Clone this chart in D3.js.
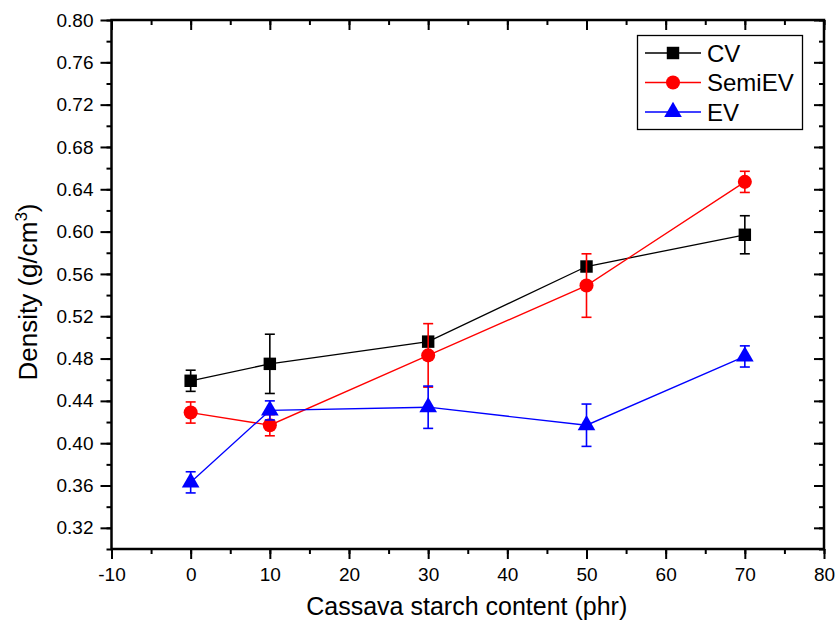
<!DOCTYPE html>
<html>
<head>
<meta charset="utf-8">
<script src="https://cdn.jsdelivr.net/npm/d3@7"></script>
<style>
  html, body { margin: 0; padding: 0; background: #fff; }
  svg { display: block; font-family: "Liberation Sans", Arial, Helvetica, sans-serif; }
</style>
</head>
<body>
<svg id="chart" width="839" height="630"></svg>
<script>
// Starch content (phr) at which each sample was measured
const starchContent = [0, 10, 30, 50, 70];

// Density (g/cm^3) and standard deviation for each vulcanisation system
const cvDensity      = [0.459, 0.475, 0.496, 0.567, 0.597];
const cvError        = [0.010, 0.028, 0.004, 0.004, 0.018];
const semiEvDensity  = [0.429, 0.417, 0.483, 0.549, 0.647];
const semiEvError    = [0.010, 0.010, 0.030, 0.030, 0.010];
const evDensity      = [0.363, 0.431, 0.434, 0.417, 0.482];
const evError        = [0.010, 0.009, 0.020, 0.020, 0.010];

const seriesNames  = ["CV", "SemiEV", "EV"];
const seriesColors = ["#000000", "#ff0000", "#0000ff"];
const seriesShapes = ["square", "circle", "triangle"];

const xTickValues = [-10, 0, 10, 20, 30, 40, 50, 60, 70, 80];
const yTickValues = [0.32, 0.36, 0.40, 0.44, 0.48, 0.52, 0.56, 0.60, 0.64, 0.68, 0.72, 0.76, 0.80];

const series = [
  { name: seriesNames[0], color: seriesColors[0], shape: seriesShapes[0], y: cvDensity, err: cvError },
  { name: seriesNames[1], color: seriesColors[1], shape: seriesShapes[1], y: semiEvDensity, err: semiEvError },
  { name: seriesNames[2], color: seriesColors[2], shape: seriesShapes[2], y: evDensity, err: evError }
];

const svg = d3.select("#chart");
const plot = { left: 111.5, right: 824, top: 20, bottom: 549 };

const x = d3.scaleLinear().domain([-10, 80]).range([plot.left, plot.right]);
const y = d3.scaleLinear().domain([0.30, 0.80]).range([plot.bottom, plot.top]);

const minorX = d3.range(-10, 80.001, 5);
const minorY = d3.range(0.30, 0.8001, 0.02).map(v => +v.toFixed(2));

// Plain hyphen for negative tick labels
const xFmt = d => String(d);

// Axes: labelled ticks point outward on bottom/left, plain ticks point inward on top/right
function addAxis(axis, transform) {
  return svg.append("g").attr("transform", transform).call(axis);
}
addAxis(d3.axisBottom(x).tickValues(minorX).tickSize(5).tickFormat(""), `translate(0,${plot.bottom})`);
addAxis(d3.axisBottom(x).tickValues(xTickValues).tickSize(10).tickPadding(9).tickFormat(xFmt), `translate(0,${plot.bottom})`);
addAxis(d3.axisBottom(x).tickValues(minorX).tickSize(5).tickFormat(""), `translate(0,${plot.top})`);
addAxis(d3.axisBottom(x).tickValues(xTickValues).tickSize(10).tickFormat(""), `translate(0,${plot.top})`);
addAxis(d3.axisLeft(y).tickValues(minorY).tickSize(5).tickFormat(""), `translate(${plot.left},0)`);
addAxis(d3.axisLeft(y).tickValues(yTickValues).tickSize(11).tickPadding(7).tickFormat(d3.format(".2f")), `translate(${plot.left},0)`);
addAxis(d3.axisRight(y).tickValues(minorY).tickSize(-5).tickFormat(""), `translate(${plot.right},0)`);
addAxis(d3.axisRight(y).tickValues(yTickValues).tickSize(-10).tickFormat(""), `translate(${plot.right},0)`);

svg.selectAll(".domain").remove();
svg.selectAll(".tick line").attr("stroke", "#000").attr("stroke-width", 2);
svg.selectAll(".tick text").attr("fill", "#000").attr("font-size", 19)
  .attr("font-family", "'Liberation Sans', Arial, sans-serif");

// Frame around the plotting area
svg.append("rect")
  .attr("x", plot.left).attr("y", plot.top)
  .attr("width", plot.right - plot.left).attr("height", plot.bottom - plot.top)
  .attr("fill", "none").attr("stroke", "#000").attr("stroke-width", 2.5);

// Axis titles
svg.append("text")
  .attr("x", (plot.left + plot.right) / 2 - 1).attr("y", 615)
  .attr("text-anchor", "middle").attr("font-size", 25).attr("fill", "#000")
  .text("Cassava starch content (phr)");

const yTitle = svg.append("text")
  .attr("transform", `translate(37,292) rotate(-90)`)
  .attr("text-anchor", "middle").attr("font-size", 26).attr("fill", "#000");
yTitle.append("tspan").text("Density (g/cm");
yTitle.append("tspan").attr("font-size", 17).attr("dy", -10).text("3");
yTitle.append("tspan").attr("dy", 10).text(")");

// Marker symbols
function symbolPath(shape) {
  if (shape === "square") return d3.symbol().type(d3.symbolSquare).size(155)();
  if (shape === "circle") return d3.symbol().type(d3.symbolCircle).size(155)();
  return d3.symbol().type(d3.symbolTriangle).size(135)();
}

const line = d3.line().x(d => x(d[0])).y(d => y(d[1]));
const capHalf = 5;

series.forEach(s => {
  const pts = starchContent.map((c, i) => [c, s.y[i], s.err[i]]);
  const g = svg.append("g");

  g.append("path").datum(pts)
    .attr("d", line).attr("fill", "none")
    .attr("stroke", s.color).attr("stroke-width", 1.3);

  const eb = g.selectAll(".eb").data(pts).enter().append("g").attr("stroke", s.color).attr("stroke-width", 1.6);
  eb.append("line")
    .attr("x1", d => x(d[0])).attr("x2", d => x(d[0]))
    .attr("y1", d => y(d[1] - d[2])).attr("y2", d => y(d[1] + d[2]));
  eb.append("line")
    .attr("x1", d => x(d[0]) - capHalf).attr("x2", d => x(d[0]) + capHalf)
    .attr("y1", d => y(d[1] + d[2])).attr("y2", d => y(d[1] + d[2]));
  eb.append("line")
    .attr("x1", d => x(d[0]) - capHalf).attr("x2", d => x(d[0]) + capHalf)
    .attr("y1", d => y(d[1] - d[2])).attr("y2", d => y(d[1] - d[2]));

  g.selectAll(".mk").data(pts).enter().append("path")
    .attr("d", symbolPath(s.shape))
    .attr("transform", d => `translate(${x(d[0])},${y(d[1])})`)
    .attr("fill", s.color);
});

// Legend
const legend = svg.append("g");
legend.append("rect")
  .attr("x", 637.5).attr("y", 35.5).attr("width", 165).attr("height", 94)
  .attr("fill", "#fff").attr("stroke", "#000").attr("stroke-width", 1.3);
series.forEach((s, i) => {
  const ly = 53 + i * 29.5;
  legend.append("line").attr("x1", 645).attr("x2", 701).attr("y1", ly).attr("y2", ly)
    .attr("stroke", s.color).attr("stroke-width", 1.3);
  legend.append("path").attr("d", symbolPath(s.shape))
    .attr("transform", `translate(673,${ly})`).attr("fill", s.color);
  legend.append("text").attr("x", 707).attr("y", ly + 8.5)
    .attr("font-size", 24).attr("fill", "#000").text(s.name);
});
</script>
</body>
</html>
